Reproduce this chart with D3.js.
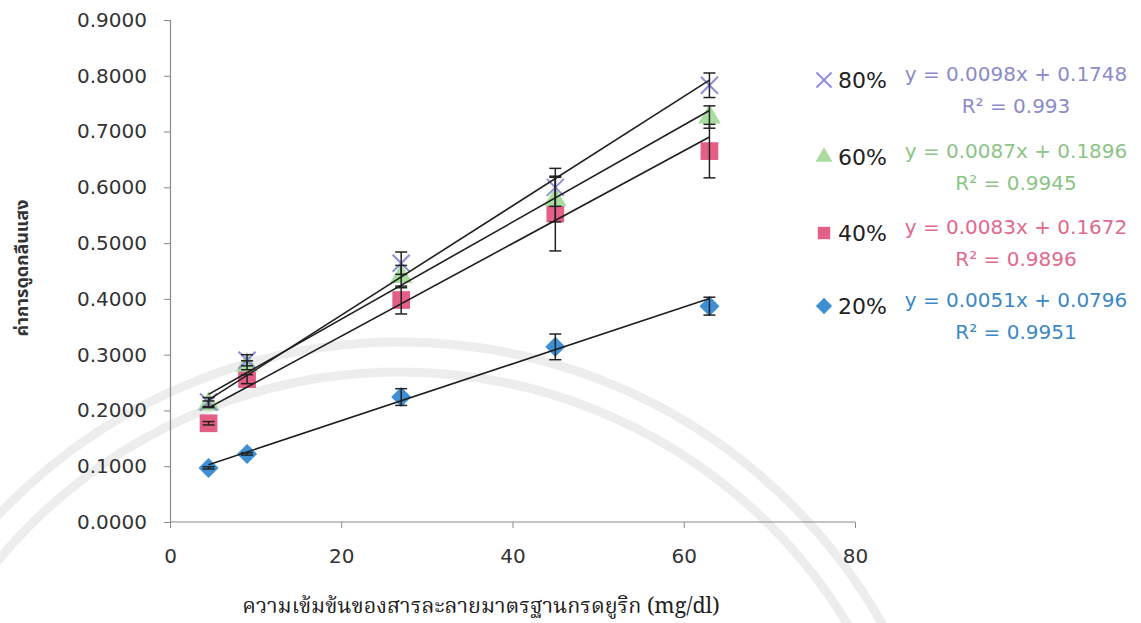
<!DOCTYPE html>
<html>
<head>
<meta charset="utf-8">
<script src="https://cdn.jsdelivr.net/npm/d3@7"></script>
<style>
  body { margin: 0; background: #fff; }
  svg { display: block; }
</style>
</head>
<body>
<svg id="chart" width="1141" height="623"></svg>
<script>
// Standard concentrations (mg/dl)
const concentrations = [4.5, 9, 27, 45, 63];

// Mean absorbance per series
const abs20 = [0.097, 0.122, 0.224, 0.314, 0.387];
const abs40 = [0.177, 0.256, 0.398, 0.553, 0.665];
const abs60 = [0.211, 0.281, 0.440, 0.578, 0.726];
const abs80 = [0.215, 0.290, 0.464, 0.600, 0.783];

// Standard deviations (error bars)
const err20 = [0.002, 0.002, 0.015, 0.023, 0.016];
const err40 = [0.003, 0.008, 0.025, 0.067, 0.048];
const err60 = [0.006, 0.008, 0.020, 0.040, 0.020];
const err80 = [0.008, 0.010, 0.020, 0.034, 0.022];

// Linear fits
const seriesNames = ["80%", "60%", "40%", "20%"];
const slopes = [0.0098, 0.0087, 0.0083, 0.0051];
const intercepts = [0.1748, 0.1896, 0.1672, 0.0796];
const rSquared = ["0.993", "0.9945", "0.9896", "0.9951"];

const xTicks = [0, 20, 40, 60, 80];
const yTicks = [0, 0.1, 0.2, 0.3, 0.4, 0.5, 0.6, 0.7, 0.8, 0.9];

const xTitle = "ความเข้มข้นของสารละลายมาตรฐานกรดยูริก (mg/dl)";
const yTitle = "ค่าการดูดกลืนแสง";

const series = [
  { name: seriesNames[3], values: abs20, errors: err20, slope: slopes[3], intercept: intercepts[3], r2: rSquared[3],
    shape: "diamond", fill: "#3f8fd4", text: "#3b88c6" },
  { name: seriesNames[2], values: abs40, errors: err40, slope: slopes[2], intercept: intercepts[2], r2: rSquared[2],
    shape: "square", fill: "#e45f86", text: "#e06a8c" },
  { name: seriesNames[1], values: abs60, errors: err60, slope: slopes[1], intercept: intercepts[1], r2: rSquared[1],
    shape: "triangle", fill: "#a9dc9e", text: "#8cc486" },
  { name: seriesNames[0], values: abs80, errors: err80, slope: slopes[0], intercept: intercepts[0], r2: rSquared[0],
    shape: "cross", fill: "#8e8ed6", text: "#8b8bc9" }
];

const svg = d3.select("#chart");
const x = d3.scaleLinear().domain([0, 80]).range([170, 855]);
const y = d3.scaleLinear().domain([0, 0.9]).range([522, 20]);

// Faint emblem rings in the background
const bg = svg.append("g");
[553, 523].forEach(r => {
  bg.append("circle")
    .attr("cx", 400).attr("cy", 895).attr("r", r)
    .attr("fill", "none").attr("stroke", "#ededed").attr("stroke-width", 9);
});

// Axes
const axisColor = "#8a8a8a";
const yAxis = svg.append("g")
  .attr("transform", `translate(${x(0)},0)`)
  .call(d3.axisLeft(y).tickValues(yTicks).tickFormat(d3.format(".4f")).tickSize(6).tickPadding(17));
const xAxis = svg.append("g")
  .attr("transform", `translate(0,${y(0)})`)
  .call(d3.axisBottom(x).tickValues(xTicks).tickSize(6).tickPadding(21));
[yAxis, xAxis].forEach(g => {
  g.select(".domain").attr("stroke", axisColor).attr("stroke-width", 1.2);
  g.selectAll(".tick line").attr("stroke", axisColor);
  g.selectAll(".tick text")
    .attr("fill", "#333")
    .style("font-family", "'DejaVu Sans', sans-serif")
    .style("font-size", "20px");
});
xAxis.select(".domain").attr("d", `M${x(0)},0H${x(80)}`);

// Axis titles
svg.append("text")
  .attr("transform", `translate(28,268) rotate(-90)`)
  .attr("text-anchor", "middle")
  .attr("fill", "#333")
  .style("font-family", "'Noto Sans Thai', 'Noto Sans', sans-serif")
  .style("font-weight", "bold")
  .style("font-size", "18px")
  .text(yTitle);

svg.append("text")
  .attr("x", 481).attr("y", 613)
  .attr("text-anchor", "middle")
  .attr("fill", "#222")
  .style("font-family", "'Noto Serif Thai', 'Liberation Serif', serif")
  .style("font-size", "21.5px")
  .text(xTitle);

// Marker shapes
function marker(sel, shape, fill, size) {
  if (shape === "cross") {
    const h = size / 2;
    sel.append("path")
      .attr("d", `M${-h},${-h}L${h},${h}M${-h},${h}L${h},${-h}`)
      .attr("stroke", fill).attr("stroke-width", 2).attr("fill", "none");
  } else {
    const type = shape === "diamond" ? d3.symbolDiamond2 : shape === "square" ? d3.symbolSquare2 : d3.symbolTriangle2;
    const area = shape === "triangle" ? size * size * 0.9 : size * size;
    sel.append("path")
      .attr("d", d3.symbol().type(type).size(area)())
      .attr("fill", fill);
  }
}

// Data markers
const plot = svg.append("g");
series.forEach(s => {
  const g = plot.append("g");
  s.values.forEach((v, i) => {
    const m = g.append("g").attr("transform", `translate(${x(concentrations[i])},${y(v)})`);
    const size = s.shape === "diamond" ? 16 : s.shape === "square" ? 20 : s.shape === "triangle" ? 20 : 17;
    marker(m, s.shape, s.fill, size);
  });
});

// Error bars
const eb = svg.append("g").attr("stroke", "#222").attr("stroke-width", 1.5);
series.forEach(s => {
  s.values.forEach((v, i) => {
    const cx = x(concentrations[i]);
    const lo = y(v - s.errors[i]), hi = y(v + s.errors[i]);
    eb.append("line").attr("x1", cx).attr("x2", cx).attr("y1", lo).attr("y2", hi);
    eb.append("line").attr("x1", cx - 6).attr("x2", cx + 6).attr("y1", lo).attr("y2", lo);
    eb.append("line").attr("x1", cx - 6).attr("x2", cx + 6).attr("y1", hi).attr("y2", hi);
  });
});

// Linear trend lines over the measured range
const xMin = d3.min(concentrations), xMax = d3.max(concentrations);
const trend = svg.append("g").attr("stroke", "#1e1e1e").attr("stroke-width", 1.6);
series.forEach(s => {
  trend.append("line")
    .attr("x1", x(xMin)).attr("y1", y(s.slope * xMin + s.intercept))
    .attr("x2", x(xMax)).attr("y2", y(s.slope * xMax + s.intercept));
});

// Legend with fit equations
const legendY = [80, 157, 233, 306];
const legendOrder = [3, 2, 1, 0];
const legend = svg.append("g").style("font-family", "'DejaVu Sans', sans-serif");
legendOrder.forEach((si, row) => {
  const s = series[si];
  const ly = legendY[row];
  const m = legend.append("g").attr("transform", `translate(824,${ly})`);
  marker(m, s.shape, s.fill, s.shape === "diamond" ? 13 : s.shape === "square" ? 14 : 15);
  legend.append("text")
    .attr("x", 838).attr("y", ly + 8)
    .attr("fill", "#222").style("font-size", "22px")
    .text(s.name);
  legend.append("text")
    .attr("x", 1016).attr("y", ly + 1)
    .attr("text-anchor", "middle")
    .attr("fill", s.text).style("font-size", "20px")
    .text(`y = ${s.slope}x + ${s.intercept}`);
  legend.append("text")
    .attr("x", 1016).attr("y", ly + 33)
    .attr("text-anchor", "middle")
    .attr("fill", s.text).style("font-size", "20px")
    .text(`R² = ${s.r2}`);
});
</script>
</body>
</html>
